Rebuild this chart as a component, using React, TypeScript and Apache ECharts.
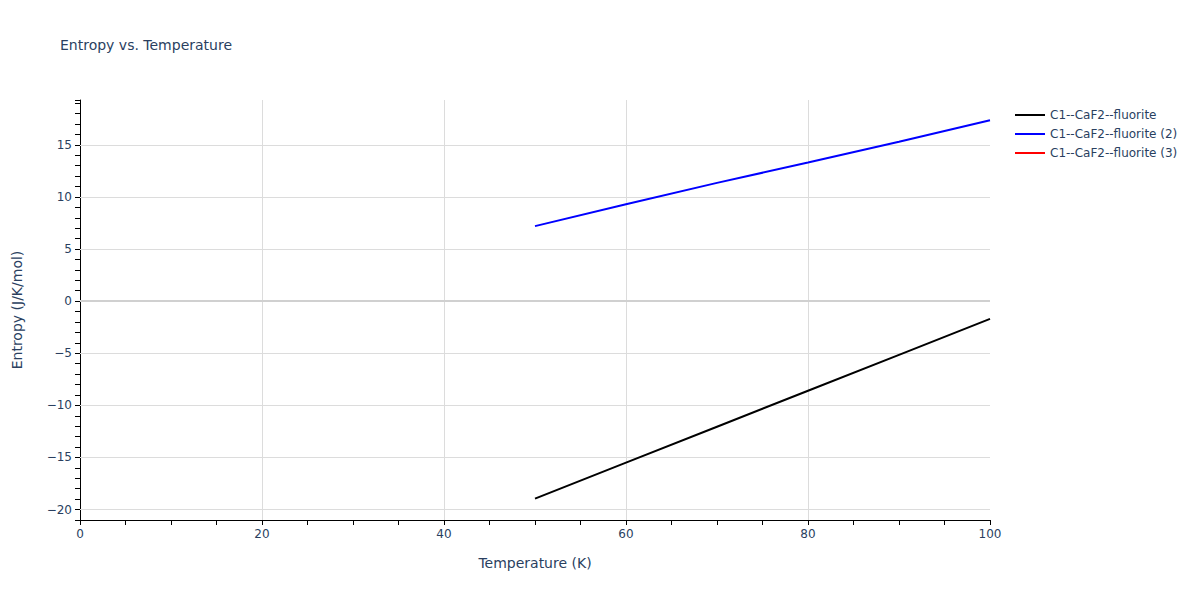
import React, { useEffect, useRef } from "react";
import * as echarts from "echarts";

const temperature = [50, 60, 70, 80, 90, 100];
const entropy1 = [-18.95, -15.5, -12.05, -8.6, -5.15, -1.7];
const entropy2 = [7.2, 9.3, 11.35, 13.3, 15.3, 17.35];
const entropy3: number[] = [];
const seriesNames = ["C1--CaF2--fluorite", "C1--CaF2--fluorite (2)", "C1--CaF2--fluorite (3)"];
const seriesColors = ["#000000", "#0000ff", "#ff0000"];
const xGridValues = [20, 40, 60, 80];
const yGridValues = [-20, -15, -10, -5, 5, 10, 15];

const FONT = '"DejaVu Sans", verdana, sans-serif';
const TXT = "#2a3f5f";

function fmtNum(v: number) {
  return v < 0 ? "\u2212" + Math.abs(v) : String(v);
}

export default function App() {
  const ref = useRef<HTMLDivElement>(null);
  useEffect(() => {
    if (!ref.current) return;
    const chart = echarts.init(ref.current, undefined, { renderer: "svg" });
    const mk = (ys: number[]) => temperature.slice(0, ys.length).map((t, i) => [t, ys[i]]);
    const datasets = [entropy1, entropy2, entropy3];
    const series: any[] = datasets.map((d, i) => ({
      name: seriesNames[i],
      type: "line",
      data: mk(d),
      showSymbol: false,
      symbol: "none",
      lineStyle: { color: seriesColors[i], width: 2 },
      itemStyle: { color: seriesColors[i] },
      z: 5,
    }));
    series.unshift({
      name: "grid",
      type: "line",
      data: [],
      silent: true,
      z: 1,
      markLine: {
        silent: true,
        symbol: "none",
        label: { show: false },
        animation: false,
        data: [
          ...xGridValues.map((v) => ({ xAxis: v, lineStyle: { color: "#dcdcdc", width: 1, type: "solid" } })),
          ...yGridValues.map((v) => ({ yAxis: v, lineStyle: { color: "#dcdcdc", width: 1, type: "solid" } })),
          { yAxis: 0, lineStyle: { color: "#d0d0d0", width: 2, type: "solid" } },
        ],
      },
    });
    chart.setOption({
      animation: false,
      backgroundColor: "#ffffff",
      title: {
        text: "Entropy vs. Temperature",
        left: 55,
        top: 33,
        textStyle: { fontFamily: FONT, fontSize: 14, fontWeight: "normal", color: TXT },
      },
      legend: {
        orient: "vertical",
        left: 1010,
        top: 104,
        itemGap: 7,
        itemWidth: 30,
        itemHeight: 2,
        icon: "rect",
        data: seriesNames,
        textStyle: { fontFamily: FONT, fontSize: 12, color: TXT },
      },
      grid: { left: 80, right: 210, top: 100, bottom: 80, containLabel: false },
      xAxis: {
        type: "value",
        min: 0,
        max: 100,
        interval: 5,
        name: "Temperature (K)",
        nameLocation: "middle",
        nameGap: 36,
        nameTextStyle: { fontFamily: FONT, fontSize: 14, color: TXT },
        axisLine: { show: true, onZero: false, lineStyle: { color: "#000", width: 1 } },
        axisTick: { show: true, length: 5, lineStyle: { color: "#000" } },
        axisLabel: {
          interval: 0,
          fontFamily: FONT,
          fontSize: 12,
          color: TXT,
          margin: 8,
          formatter: (v: number) => (v % 20 === 0 ? fmtNum(v) : ""),
        },
        splitLine: { show: false },
      },
      yAxis: {
        type: "value",
        min: -21,
        max: 19.3,
        interval: 1,
        name: "Entropy (J/K/mol)",
        nameLocation: "middle",
        nameGap: 56,
        nameTextStyle: { fontFamily: FONT, fontSize: 14, color: TXT },
        axisLine: { show: true, onZero: false, lineStyle: { color: "#000", width: 1 } },
        axisTick: { show: true, length: 5, lineStyle: { color: "#000" } },
        axisLabel: {
          interval: 0,
          fontFamily: FONT,
          fontSize: 12,
          color: TXT,
          margin: 8,
          formatter: (v: number) => (Number.isInteger(v) && v % 5 === 0 ? fmtNum(v) : ""),
        },
        splitLine: { show: false },
      },
      series,
    });
    return () => chart.dispose();
  }, []);
  return <div ref={ref} style={{ width: 1200, height: 600, margin: -8 }} />;
}
